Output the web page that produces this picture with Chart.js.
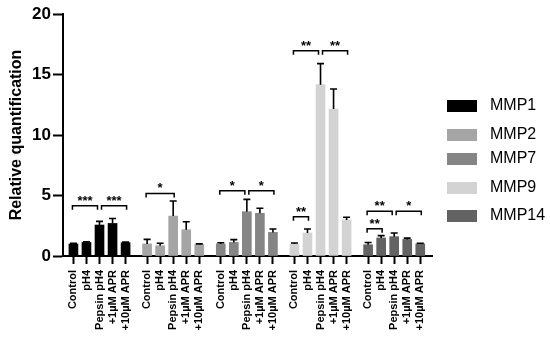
<!DOCTYPE html>
<html><head><meta charset="utf-8">
<script src="https://cdn.jsdelivr.net/npm/chart.js@4/dist/chart.umd.min.js"></script>
<style>html,body{margin:0;padding:0;background:#fff}</style>
</head><body>
<canvas id="c" width="550" height="340"></canvas>
<script>
// ---- data ----
const genes = ['MMP1', 'MMP2', 'MMP7', 'MMP9', 'MMP14'];
const conditions = ['Control', 'pH4', 'Pepsin pH4', '+1µM APR', '+10µM APR'];
const mmp1 = [0.99, 1.12, 2.56, 2.69, 1.10];
const mmp1Err = [0.05, 0.06, 0.30, 0.41, 0.05];
const mmp2 = [1.00, 0.85, 3.30, 2.17, 0.95];
const mmp2Err = [0.37, 0.20, 1.25, 0.66, 0.05];
const mmp7 = [1.00, 1.12, 3.66, 3.53, 1.95];
const mmp7Err = [0.10, 0.23, 1.02, 0.42, 0.28];
const mmp9 = [1.00, 1.90, 14.16, 12.15, 2.98];
const mmp9Err = [0.08, 0.33, 1.74, 1.65, 0.22];
const mmp14 = [0.93, 1.49, 1.60, 1.37, 1.00];
const mmp14Err = [0.19, 0.19, 0.30, 0.11, 0.05];
const yTicks = [0, 5, 10, 15, 20];
// significance brackets: gene index, from condition, to condition, height, label
const bracketGene  = [0, 0, 1, 2, 2, 3, 3, 3, 4, 4, 4];
const bracketFrom  = [0, 2, 0, 0, 2, 0, 0, 2, 0, 0, 2];
const bracketTo    = [2, 4, 2, 2, 4, 1, 2, 4, 1, 2, 4];
const bracketLevel = [4.16, 4.16, 5.17, 5.4, 5.4, 3.25, 16.97, 16.97, 2.26, 3.69, 3.69];
const bracketLabel = ['***', '***', '*', '*', '*', '**', '**', '**', '**', '**', '*'];

const colors = ['#000000', '#a5a5a5', '#858585', '#d3d3d3', '#636363'];
const FONT = 'Arial, "Liberation Sans", sans-serif';

// ---- build ----
const values = [mmp1, mmp2, mmp7, mmp9, mmp14];
const errors = [mmp1Err, mmp2Err, mmp7Err, mmp9Err, mmp14Err];
const GROUP_STEP = 5.65; // layout spacing between gene groups (in bar slots)
const pos = (g, i) => g * GROUP_STEP + i;
const points = [], barColors = [], barErr = [], xTickPos = [], xTickLabels = [];
values.forEach((arr, g) => arr.forEach((v, i) => {
  points.push({x: pos(g, i), y: v});
  barColors.push(colors[g]);
  barErr.push(errors[g][i]);
  xTickPos.push(pos(g, i));
  xTickLabels.push(conditions[i]);
}));

const errorBars = {
  id: 'errorBars',
  afterDatasetsDraw(chart) {
    const {ctx, scales: {y}} = chart;
    const meta = chart.getDatasetMeta(0);
    ctx.save();
    ctx.strokeStyle = '#000';
    ctx.lineWidth = 1.6;
    meta.data.forEach((bar, i) => {
      const top = y.getPixelForValue(points[i].y);
      const cap = y.getPixelForValue(points[i].y + barErr[i]);
      ctx.beginPath();
      ctx.moveTo(bar.x, top);
      ctx.lineTo(bar.x, cap);
      ctx.moveTo(bar.x - 3.5, cap);
      ctx.lineTo(bar.x + 3.5, cap);
      ctx.stroke();
    });
    ctx.restore();
  }
};

const brackets = {
  id: 'brackets',
  afterDatasetsDraw(chart) {
    const {ctx, scales: {x, y}} = chart;
    ctx.save();
    ctx.strokeStyle = '#000';
    ctx.fillStyle = '#000';
    ctx.lineWidth = 1.5;
    ctx.font = 'bold 13px ' + FONT;
    ctx.textAlign = 'center';
    ctx.textBaseline = 'alphabetic';
    bracketGene.forEach((g, k) => {
      const lvl = bracketLevel[k];
      const shares = (idx, arr) => bracketGene.some((g2, j) => j !== k && g2 === g && bracketLevel[j] === lvl && arr[j] === idx);
      let x1 = x.getPixelForValue(pos(g, bracketFrom[k])) - 1;
      let x2 = x.getPixelForValue(pos(g, bracketTo[k])) + 1;
      if (shares(bracketFrom[k], bracketTo)) x1 += 3;
      if (shares(bracketTo[k], bracketFrom)) x2 -= 3;
      const yy = y.getPixelForValue(lvl);
      ctx.beginPath();
      ctx.moveTo(x1, yy + 4);
      ctx.lineTo(x1, yy);
      ctx.lineTo(x2, yy);
      ctx.lineTo(x2, yy + 4);
      ctx.stroke();
      ctx.fillText(bracketLabel[k], (x1 + x2) / 2, yy - 1);
    });
    ctx.restore();
  }
};

const legendRows = [106, 135, 159, 188, 216];
const sideLegend = {
  id: 'sideLegend',
  afterDraw(chart) {
    const {ctx} = chart;
    ctx.save();
    ctx.font = '16px ' + FONT;
    ctx.textBaseline = 'middle';
    ctx.textAlign = 'left';
    genes.forEach((name, g) => {
      const cy = legendRows[g];
      ctx.fillStyle = colors[g];
      ctx.fillRect(447, cy - 6, 30, 12);
      ctx.fillStyle = '#000';
      ctx.fillText(name, 490, cy);
    });
    ctx.restore();
  }
};

new Chart(document.getElementById('c'), {
  type: 'bar',
  data: {
    datasets: [{
      data: points,
      backgroundColor: barColors,
      borderWidth: 0,
      barThickness: 9
    }]
  },
  options: {
    responsive: false,
    animation: false,
    layout: {padding: {top: 14, right: 118, left: 0, bottom: 0}},
    plugins: {legend: {display: false}, tooltip: {enabled: false}},
    scales: {
      x: {
        type: 'linear',
        min: -0.8,
        max: 27.5,
        offset: false,
        afterBuildTicks: s => { s.ticks = xTickPos.map(v => ({value: v})); },
        afterFit: s => { s.height = 84; },
        grid: {display: true, drawOnChartArea: false, offset: false, tickLength: 8, tickWidth: 2, tickColor: '#000', color: '#000'},
        border: {display: true, color: '#000', width: 2},
        ticks: {
          autoSkip: false,
          minRotation: 90,
          maxRotation: 90,
          padding: 6,
          color: '#000',
          font: {family: FONT, size: 11, weight: 'bold'},
          callback: (v, i) => xTickLabels[i]
        }
      },
      y: {
        min: 0,
        max: 20,
        afterBuildTicks: s => { s.ticks = yTicks.map(v => ({value: v})); },
        afterFit: s => { s.width = 63; },
        grid: {display: true, drawOnChartArea: false, tickLength: 10, tickWidth: 2, tickColor: '#000'},
        border: {display: true, color: '#000', width: 2},
        ticks: {padding: 2, color: '#000', font: {family: FONT, size: 17, weight: 'bold'}},
        title: {display: true, text: 'Relative quantification', color: '#000', padding: {top: 7, bottom: 0}, font: {family: FONT, size: 16, weight: 'bold'}}
      }
    }
  },
  plugins: [errorBars, brackets, sideLegend]
});
</script>
</body></html>
